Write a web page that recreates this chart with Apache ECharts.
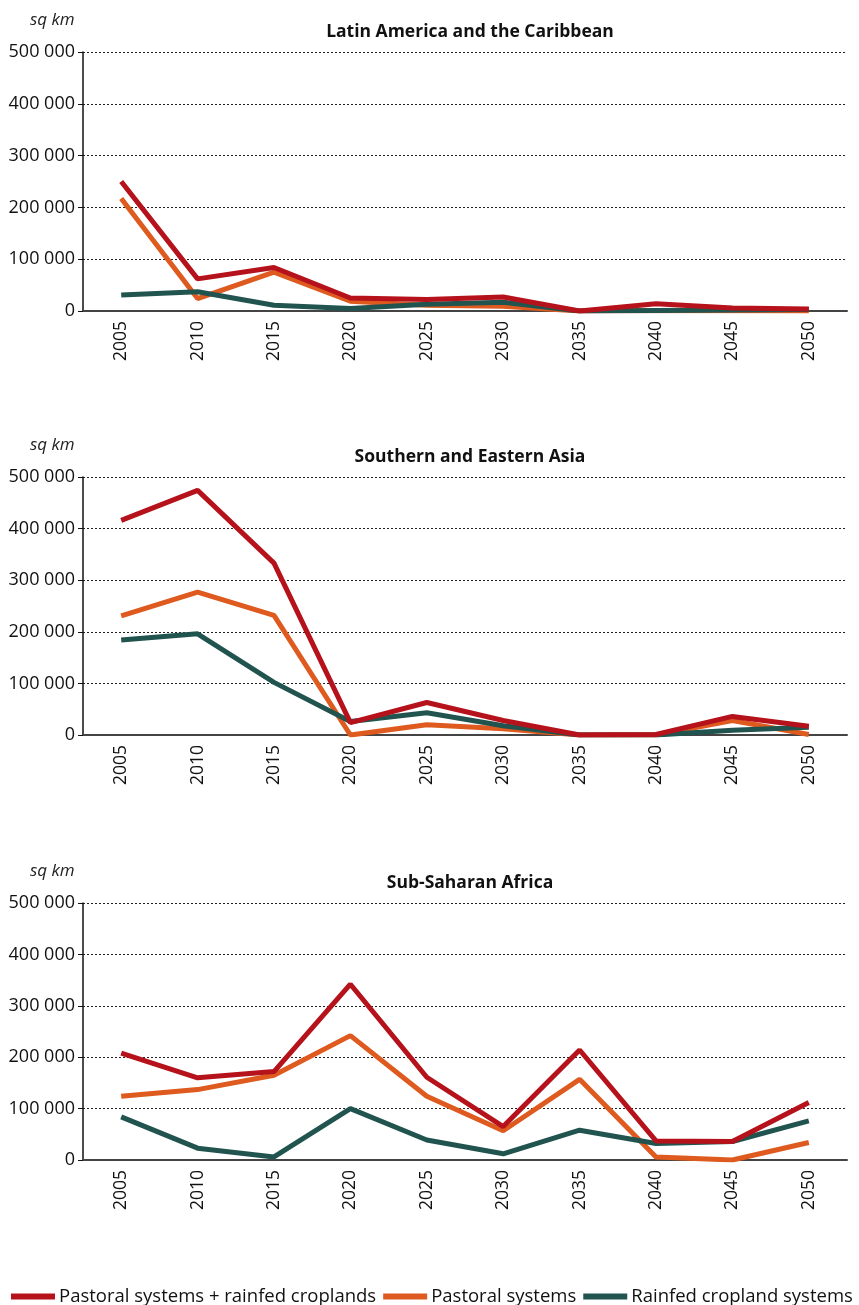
<!DOCTYPE html>
<html>
<head>
<meta charset="utf-8">
<script src="https://cdn.jsdelivr.net/npm/echarts@6/dist/echarts.min.js"></script>
<style>
  html, body { margin: 0; padding: 0; background: #fff; }
  #chart { width: 859px; height: 1305px; }
</style>
</head>
<body>
<div id="chart"></div>
<script>
const years = ["2005", "2010", "2015", "2020", "2025", "2030", "2035", "2040", "2045", "2050"];
const regions = ["Latin America and the Caribbean", "Southern and Eastern Asia", "Sub-Saharan Africa"];
const seriesNames = ["Pastoral systems + rainfed croplands", "Pastoral systems", "Rainfed cropland systems"];

// sq km, one array per region and system
const latamCombined = [250000, 62000, 84000, 25000, 22000, 27000, 0, 14000, 6000, 4000];
const latamPastoral = [217000, 24000, 75000, 19000, 11000, 9000, 0, 1000, 500, 0];
const latamRainfed = [31000, 37000, 11000, 5000, 13000, 17000, 0, 1000, 2000, 3000];

const asiaCombined = [416000, 474000, 333000, 24000, 63000, 28000, 0, 1000, 36000, 17000];
const asiaPastoral = [231000, 277000, 232000, 0, 20000, 12000, 0, 0, 28000, 1000];
const asiaRainfed = [184000, 196000, 102000, 26000, 43000, 18000, 0, 0, 9000, 15000];

const africaCombined = [208000, 160000, 172000, 342000, 161000, 65000, 214000, 37000, 36000, 112000];
const africaPastoral = [124000, 137000, 165000, 242000, 124000, 57000, 157000, 6000, 0, 34000];
const africaRainfed = [84000, 23000, 6000, 100000, 39000, 12000, 58000, 32000, 36000, 76000];

const colors = { combined: "#b5121b", pastoral: "#de5a1f", rainfed: "#21544f" };
const font = "'Open Sans', 'Noto Sans', sans-serif";

const panels = [
  { top: 52, height: 259, data: [latamCombined, latamPastoral, latamRainfed] },
  { top: 477, height: 258, data: [asiaCombined, asiaPastoral, asiaRainfed] },
  { top: 903, height: 257, data: [africaCombined, africaPastoral, africaRainfed] }
];

const grid = [], xAxis = [], yAxis = [], series = [], title = [];

panels.forEach((p, i) => {
  grid.push({ left: 83, right: 12, top: p.top, height: p.height });
  title.push({
    text: regions[i],
    left: 465,
    textAlign: "center",
    top: p.top - 34,
    textStyle: { fontFamily: font, fontSize: 17.5, fontWeight: "bold", color: "#111" }
  });
  title.push({
    text: "sq km",
    left: 25,
    top: p.top - 45,
    textStyle: { fontFamily: font, fontSize: 17, fontStyle: "italic", fontWeight: "normal", color: "#222" }
  });
  xAxis.push({
    type: "category",
    gridIndex: i,
    data: years,
    boundaryGap: true,
    axisLine: { lineStyle: { color: "#444", width: 2 } },
    axisTick: { length: 6, lineStyle: { color: "#444", width: 1 } },
    axisLabel: { rotate: 90, margin: 10, fontFamily: font, fontSize: 17.5, color: "#111" },
    splitLine: { show: false }
  });
  yAxis.push({
    type: "value",
    gridIndex: i,
    min: 0,
    max: 500000,
    interval: 100000,
    axisLine: { show: true, lineStyle: { color: "#111", width: 1.5 } },
    axisTick: { show: true, length: 5, lineStyle: { color: "#111" } },
    axisLabel: {
      margin: 8,
      fontFamily: font,
      fontSize: 18,
      color: "#111",
      formatter: v => String(v).replace(/\B(?=(\d{3})+(?!\d))/g, " ")
    },
    splitLine: { lineStyle: { color: "#222", width: 1, type: [2, 2] } }
  });
  // draw order: pastoral, rainfed, then combined on top
  [[1, colors.pastoral], [2, colors.rainfed], [0, colors.combined]].forEach(([k, c]) => {
    series.push({
      name: seriesNames[k],
      type: "line",
      xAxisIndex: i,
      yAxisIndex: i,
      data: p.data[k],
      symbol: "none",
      lineStyle: { color: c, width: 5 },
      itemStyle: { color: c },
      animation: false
    });
  });
});

const chart = echarts.init(document.getElementById("chart"));
chart.setOption({
  backgroundColor: "#fff",
  animation: false,
  title,
  grid,
  xAxis,
  yAxis,
  series,
  legend: {
    data: seriesNames,
    left: 6,
    top: 1282,
    icon: "rect",
    itemWidth: 44,
    itemHeight: 6,
    itemGap: 7,
    textStyle: { fontFamily: font, fontSize: 18.5, color: "#111", padding: [0, 0, 0, -1] }
  }
});
</script>
</body>
</html>
